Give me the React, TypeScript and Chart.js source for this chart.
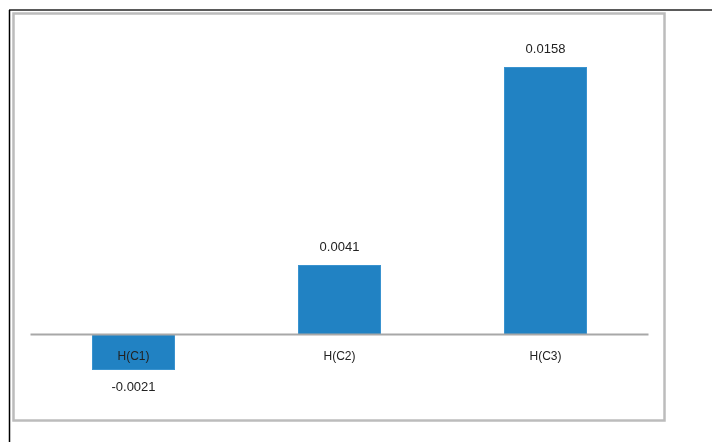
import React, { useEffect, useRef } from "react";
import { Chart, registerables } from "chart.js";

Chart.register(...registerables);

const categories = ["H(C1)", "H(C2)", "H(C3)"];
const values = [-0.0021, 0.0041, 0.0158];
const valueLabels = ["-0.0021", "0.0041", "0.0158"];
const yMin = -0.004;
const yMax = 0.018;

const FONT = "'Liberation Sans', Arial, sans-serif";

const framePlugin = {
  id: "frame",
  beforeDraw(chart: any) {
    const ctx = chart.ctx;
    ctx.save();
    ctx.fillStyle = "#ffffff";
    ctx.fillRect(0, 0, chart.width, chart.height);
    // outer dark lines
    ctx.strokeStyle = "#5a5a5a";
    ctx.lineWidth = 2;
    ctx.beginPath();
    ctx.moveTo(9, 10);
    ctx.lineTo(712, 10);
    ctx.stroke();
    ctx.strokeStyle = "#000000";
    ctx.lineWidth = 1.5;
    ctx.beginPath();
    ctx.moveTo(9.5, 10);
    ctx.lineTo(9.5, 442);
    ctx.stroke();
    // inner light frame
    ctx.strokeStyle = "#bcbcbc";
    ctx.lineWidth = 2.5;
    ctx.strokeRect(13.5, 13.5, 651, 407);
    ctx.restore();
  },
  afterDatasetsDraw(chart: any) {
    const ctx = chart.ctx;
    const y = chart.scales.y;
    const area = chart.chartArea;
    const zeroY = y.getPixelForValue(0);
    ctx.save();
    // zero axis line
    ctx.strokeStyle = "#a8a8a8";
    ctx.lineWidth = 2;
    ctx.beginPath();
    ctx.moveTo(area.left, zeroY);
    ctx.lineTo(area.right, zeroY);
    ctx.stroke();
    // category labels
    const meta = chart.getDatasetMeta(0);
    ctx.fillStyle = "#222222";
    ctx.textAlign = "center";
    ctx.textBaseline = "middle";
    ctx.font = `12px ${FONT}`;
    meta.data.forEach((bar: any, i: number) => {
      ctx.fillText(categories[i], bar.x, zeroY + 22);
    });
    // value labels
    ctx.font = `13px ${FONT}`;
    meta.data.forEach((bar: any, i: number) => {
      const v = values[i];
      const ly = v >= 0 ? bar.y - 18 : bar.y + 17;
      ctx.fillText(valueLabels[i], bar.x, ly);
    });
    ctx.restore();
  },
};

export default function App() {
  const ref = useRef<HTMLCanvasElement | null>(null);
  useEffect(() => {
    if (!ref.current) return;
    const chart = new Chart(ref.current, {
      type: "bar",
      data: {
        labels: categories,
        datasets: [
          {
            data: values,
            backgroundColor: "#2182c3",
            borderColor: "#3a93cf",
            borderWidth: 1,
            categoryPercentage: 1,
            barPercentage: 0.403,
          },
        ],
      },
      options: {
        responsive: false,
        animation: false,
        devicePixelRatio: 1,
        layout: { padding: { left: 30.5, right: 65.5, top: 29.8, bottom: 39.8 } },
        plugins: {
          legend: { display: false },
          tooltip: { enabled: false },
          title: { display: false },
        },
        scales: {
          x: { display: false, grid: { display: false } },
          y: { display: false, min: yMin, max: yMax, grid: { display: false } },
        },
      },
      plugins: [framePlugin],
    });
    return () => chart.destroy();
  }, []);
  return (
    <div style={{ position: "fixed", left: 0, top: 0, width: 714, height: 442 }}>
      <canvas ref={ref} width={714} height={442} style={{ width: 714, height: 442, display: "block" }} />
    </div>
  );
}
